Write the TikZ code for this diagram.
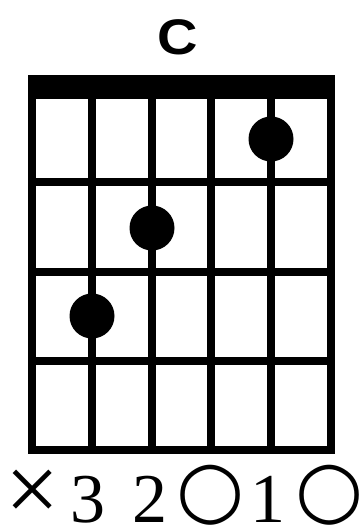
\documentclass[tikz,border=0pt]{standalone}
\usepackage{fontspec}
\usepackage{graphicx}
\setmainfont{Liberation Serif}
\newfontfamily\titlefont{Liberation Sans}
\newfontfamily\symfont{DejaVu Sans}
\newfontfamily\crossfont{Liberation Serif}
\begin{document}
\begin{tikzpicture}[x=1pt,y=-1pt,
  gridline/.style={line width=8pt,line cap=rect},
  fingerdot/.style={circle,fill=black,inner sep=0pt,minimum size=45pt},
  digitlabel/.style={anchor=base,inner sep=0pt,font=\fontsize{70}{70}\selectfont},
  symlabel/.style={inner sep=0pt,font=\symfont\fontsize{78}{78}\selectfont},
  crosslabel/.style={inner sep=0pt,font=\crossfont\fontsize{96}{96}\selectfont}]
\useasboundingbox (0,0) rectangle (360,531);
% title
\node[inner sep=0pt,font=\titlefont\bfseries\fontsize{50}{50}\selectfont] (title) at (178,37) {\scalebox{1.12}[1]{C}};
% nut
\fill (28,75) rectangle (335,99);
% strings
\foreach \i/\x in {1/32,2/92,3/152,4/211,5/271,6/331}{
  \coordinate (s\i top) at (\x,80);
  \coordinate (s\i bot) at (\x,450);
  \draw[gridline] (s\i top) -- (s\i bot);
}
% frets
\foreach \j/\y in {1/182,2/272,3/361,4/450}{
  \coordinate (f\j l) at (32,\y);
  \coordinate (f\j r) at (331,\y);
  \draw[gridline] (f\j l) -- (f\j r);
}
% finger dots
\node[fingerdot] (d5) at (271,139) {};
\node[fingerdot] (d3) at (152,228) {};
\node[fingerdot] (d2) at (92,316) {};
% string labels
\node[crosslabel] (l1) at (33,496) {×};
\node[digitlabel] (l2) at (88,522) {3};
\node[digitlabel] (l3) at (150,522) {2};
\node[symlabel] (l4) at (211,495) {○};
\node[digitlabel] (l5) at (268,522) {1};
\node[symlabel] (l6) at (330,495) {○};
\end{tikzpicture}
\end{document}
